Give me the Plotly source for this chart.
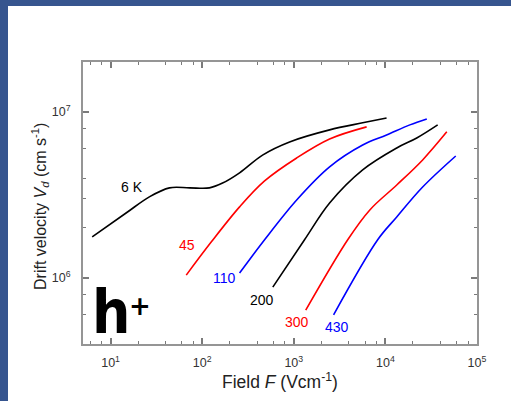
import numpy as np
import plotly.graph_objects as go

# ---- data ----
x_6K = [6.3, 14.9, 26.5, 44, 73, 120, 167, 256, 456, 900, 2460, 5650, 10300]
y_6K = [1.77e6, 2.47e6, 3.08e6, 3.49e6, 3.49e6, 3.49e6, 3.73e6, 4.3e6, 5.5e6, 6.6e6, 7.8e6, 8.6e6, 9.2e6]

x_45 = [67, 126, 256, 480, 1075, 2460, 6240]
y_45 = [1.04e6, 1.65e6, 2.68e6, 3.84e6, 5.28e6, 6.87e6, 8.13e6]

x_110 = [256, 480, 1075, 2460, 5650, 10300, 18500, 28300]
y_110 = [1.07e6, 1.7e6, 2.95e6, 4.67e6, 6.32e6, 7.26e6, 8.36e6, 9.08e6]

x_200 = [590, 1310, 2460, 5650, 13300, 22000, 37200]
y_200 = [8.8e5, 1.7e6, 2.83e6, 4.48e6, 6.07e6, 6.97e6, 8.36e6]

x_300 = [1350, 3880, 6760, 13300, 25500, 46800]
y_300 = [6.4e5, 1.7e6, 2.57e6, 3.63e6, 5.14e6, 7.59e6]

x_430 = [2720, 8240, 13300, 25500, 58600]
y_430 = [6.0e5, 1.7e6, 2.33e6, 3.53e6, 5.43e6]

labels = ["6 K", "45", "110", "200", "300", "430"]
label_x = [17.3, 69, 175, 445, 1075, 2930]
label_y = [3.53e6, 1.58e6, 1.0e6, 7.36e5, 5.43e5, 5.07e5]

colors = ["black", "#ff0000", "#0000ff", "black", "#ff0000", "#0000ff"]

x_ticks = [10, 100, 1000, 10000, 100000]
x_ticktext = ["10<sup>1</sup>", "10<sup>2</sup>", "10<sup>3</sup>", "10<sup>4</sup>", "10<sup>5</sup>"]
y_ticks = [1e6, 1e7]
y_ticktext = ["10<sup>6</sup>", "10<sup>7</sup>"]

series = [(x_6K, y_6K), (x_45, y_45), (x_110, y_110), (x_200, y_200), (x_300, y_300), (x_430, y_430)]

fig = go.Figure()
for (xs, ys), c in zip(series, colors):
    fig.add_trace(go.Scatter(x=xs, y=ys, mode="lines",
                             line=dict(color=c, width=1.6, shape="spline", smoothing=1.0),
                             showlegend=False, hoverinfo="skip"))

for t, lx, ly, c in zip(labels, label_x, label_y, colors):
    fig.add_annotation(x=np.log10(lx), y=np.log10(ly), text=t, showarrow=False,
                       font=dict(size=14, color=c, family="Liberation Sans, Arial"),
                       xanchor="center", yanchor="middle")

# minor tick positions
x_minor = [m * 10 ** d for d in range(0, 5) for m in (2, 4, 6, 8)]
y_minor = [m * 10 ** d for d in range(5, 7) for m in (2, 3, 4, 6, 8)]

L, R, T, B = 83, 34, 62, 57
W, H = 511, 401
pw, ph = W - L - R, H - T - B

axis_common = dict(showline=True, linecolor="#959595", linewidth=2, mirror="ticks",
                   ticks="inside", ticklen=6, tickwidth=1.5, tickcolor="#7a7a7a",
                   showgrid=False, zeroline=False,
                   tickfont=dict(size=12.5, color="#333333", family="Liberation Sans, Arial"))

fig.update_xaxes(type="log", range=[np.log10(5), 5], tickmode="array",
                 tickvals=x_ticks, ticktext=x_ticktext, ticklabelstandoff=6,
                 minor=dict(tickmode="array", tickvals=x_minor, ticks="inside", ticklen=3,
                            tickcolor="#7a7a7a", tickwidth=1, showgrid=False),
                 **axis_common)
fig.update_yaxes(type="log", range=[np.log10(4e5), np.log10(2e7)], tickmode="array",
                 tickvals=y_ticks, ticktext=y_ticktext, ticklabelstandoff=8,
                 minor=dict(tickmode="array", tickvals=y_minor, ticks="inside", ticklen=3,
                            tickcolor="#7a7a7a", tickwidth=1, showgrid=False),
                 **axis_common)

def px_x(p):
    return (p - L) / pw

def px_y(p):
    return (H - B - p) / ph

# axis titles
fig.add_annotation(xref="paper", yref="paper", x=px_x(40), y=px_y(207),
                   text="Drift velocity <i>V<sub>d</sub></i> (cm s<sup>-1</sup>)",
                   textangle=-90, showarrow=False, xanchor="center", yanchor="middle",
                   font=dict(size=16, color="#222222", family="Liberation Sans, Arial"))
fig.add_annotation(xref="paper", yref="paper", x=px_x(280), y=px_y(381),
                   text="Field <i>F</i> (Vcm<sup>-1</sup>)", showarrow=False,
                   xanchor="center", yanchor="middle",
                   font=dict(size=17.5, color="#222222", family="Liberation Sans, Arial"))

# h+ label
fig.add_annotation(xref="paper", yref="paper", x=px_x(111), y=px_y(312),
                   text="<b>h</b>", showarrow=False, xanchor="center", yanchor="middle",
                   font=dict(size=60, color="black", family="Liberation Sans Narrow, DejaVu Sans Condensed"),
                   )
fig.add_annotation(xref="paper", yref="paper", x=px_x(140), y=px_y(306),
                   text="<b>+</b>", showarrow=False, xanchor="center", yanchor="middle",
                   font=dict(size=26, color="black", family="DejaVu Sans"))

# decorative frame (top and left strips)
frame_col = "#36558f"
fig.add_shape(type="rect", xref="paper", yref="paper", x0=px_x(0), x1=px_x(W), y0=px_y(6), y1=px_y(0),
              fillcolor=frame_col, line=dict(width=0), layer="above")
fig.add_shape(type="rect", xref="paper", yref="paper", x0=px_x(0), x1=px_x(8), y0=px_y(H), y1=px_y(0),
              fillcolor=frame_col, line=dict(width=0), layer="above")

fig.update_layout(width=W, height=H, margin=dict(l=L, r=R, t=T, b=B),
                  paper_bgcolor="white", plot_bgcolor="white", showlegend=False)

fig.write_html("out.html")
